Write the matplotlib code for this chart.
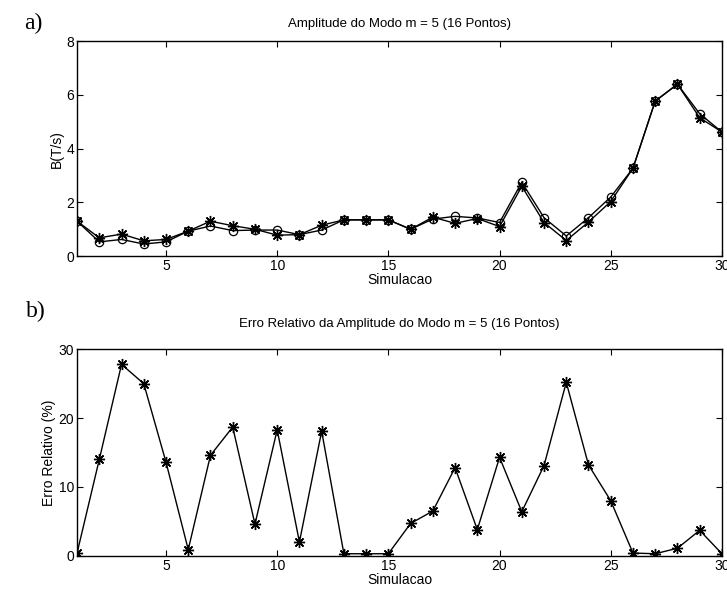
import numpy as np
import matplotlib
matplotlib.use("Agg")
from matplotlib import pyplot as plt

plt.rcParams['font.family'] = ['Liberation Sans', 'DejaVu Sans']

# simulation index
sim = np.arange(1, 31)

# amplitude of mode m = 5, two series (asterisk / circle)
amp_star = [1.30, 0.68, 0.82, 0.57, 0.62, 0.93, 1.30, 1.13, 1.00, 0.78,
            0.80, 1.15, 1.35, 1.35, 1.35, 1.00, 1.45, 1.22, 1.40, 1.10,
            2.60, 1.25, 0.58, 1.27, 2.03, 3.27, 5.77, 6.40, 5.15, 4.62]
amp_circ = [1.30, 0.53, 0.62, 0.45, 0.53, 0.93, 1.12, 0.95, 0.97, 0.97,
            0.80, 0.97, 1.35, 1.35, 1.35, 1.00, 1.38, 1.48, 1.42, 1.25,
            2.75, 1.43, 0.75, 1.43, 2.20, 3.27, 5.77, 6.40, 5.30, 4.62]

# relative error (%)
err = [0.4, 14.0, 27.8, 25.0, 13.6, 0.9, 14.6, 18.7, 4.6, 18.3,
       2.0, 18.1, 0.3, 0.3, 0.3, 4.7, 6.5, 12.8, 3.8, 14.3,
       6.4, 13.1, 25.2, 13.2, 8.0, 0.4, 0.3, 1.1, 3.7, 0.3]

xticks = [5, 10, 15, 20, 25, 30]
ast = (8, 2, 0)  # matlab-like asterisk

fig = plt.figure(figsize=(7.27, 5.97), dpi=100)
ax1 = fig.add_axes([0.106, 0.571, 0.887, 0.360])
ax2 = fig.add_axes([0.106, 0.069, 0.887, 0.346])


def style(ax):
    ax.set_xlim(1, 30)
    ax.set_xticks(xticks)
    ax.tick_params(direction='in', top=True, right=True, labelsize=10,
                   length=4, width=0.8, pad=2)
    for s in ax.spines.values():
        s.set_linewidth(1.0)


# a) amplitude
ax1.plot(sim, amp_circ, color='k', lw=1.0, marker='o', ms=6,
         mfc='none', mec='k', mew=0.9)
ax1.plot(sim, amp_star, color='k', lw=1.0, marker=ast, ms=8, mew=1.0)
style(ax1)
ax1.set_ylim(0, 8)
ax1.set_yticks([0, 2, 4, 6, 8])
ax1.set_title('Amplitude do Modo m = 5 (16 Pontos)', fontsize=9.5, pad=10)
ax1.set_xlabel('Simulacao', fontsize=10, labelpad=0)
ax1.set_ylabel('B(T/s)', fontsize=10, labelpad=2)

# b) relative error
ax2.plot(sim, err, color='k', lw=1.0, marker=ast, ms=8, mew=1.0)
style(ax2)
ax2.set_ylim(0, 30)
ax2.set_yticks([0, 10, 20, 30])
ax2.set_title('Erro Relativo da Amplitude do Modo m = 5 (16 Pontos)',
              fontsize=9.5, pad=16)
ax2.set_xlabel('Simulacao', fontsize=10, labelpad=0)
ax2.set_ylabel('Erro Relativo (%)', fontsize=10, labelpad=2)

# panel labels
fig.text(0.033, 0.960, 'a)', family='Liberation Serif', fontsize=17, va='center')
fig.text(0.036, 0.479, 'b)', family='Liberation Serif', fontsize=17, va='center')

fig.savefig('out.png', dpi=100)
